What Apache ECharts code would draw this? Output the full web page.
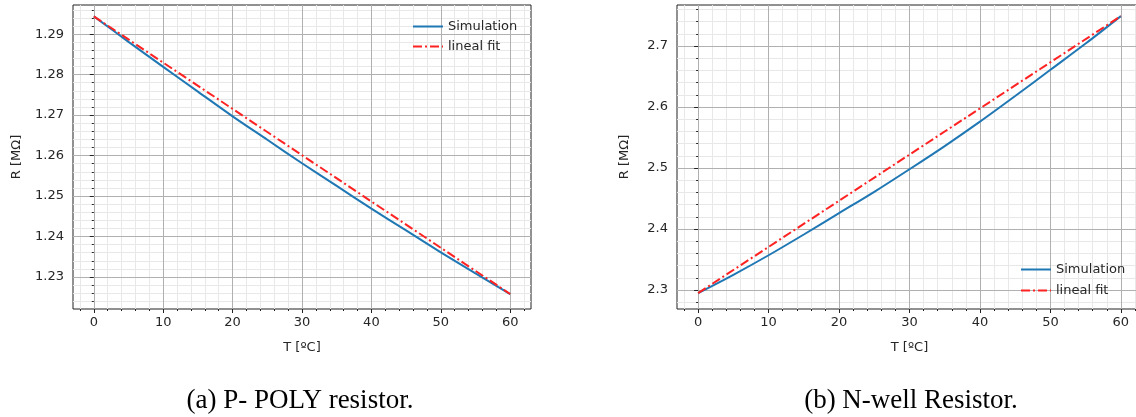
<!DOCTYPE html>
<html><head><meta charset="utf-8">
<script src="https://cdn.jsdelivr.net/npm/echarts@6/dist/echarts.min.js"></script>
<style>html,body{margin:0;padding:0;background:#fff}#c{width:1136px;height:417px}</style>
</head><body><div id="c"></div>
<script>
// ---- data ----
const temps = [0, 5, 10, 15, 20, 25, 30, 35, 40, 45, 50, 55, 60];
const polySim = [1.2944, 1.2881, 1.2819, 1.2758, 1.2697, 1.2639, 1.2581, 1.2525, 1.2469, 1.2415, 1.2361, 1.2309, 1.2258];
const nwellSim = [2.295, 2.325, 2.357, 2.391, 2.426, 2.461, 2.498, 2.536, 2.576, 2.618, 2.661, 2.704, 2.749];
const fitTemps = [0, 60];
const polyFit = [1.2944, 1.2258];
const nwellFit = [2.295, 2.749];
const xTicks = [0, 10, 20, 30, 40, 50, 60];
const polyTicks = [1.23, 1.24, 1.25, 1.26, 1.27, 1.28, 1.29];
const nwellTicks = [2.3, 2.4, 2.5, 2.6, 2.7];
const seriesNames = ['Simulation', 'lineal fit'];
const captions = ['(a) P- POLY resistor.', '(b) N-well Resistor.'];
const xName = 'T [ºC]';
const yName = 'R [MΩ]';

// ---- helpers ----
function minorValues(min, max, step, majors) {
  const out = [];
  for (let k = Math.ceil(min / step - 1e-9); k * step <= max + 1e-12; k++) {
    const v = Math.round(k * step * 1e6) / 1e6;
    if (!majors.some(m => Math.abs(m - v) < step / 10)) out.push(v);
  }
  return out;
}
const FONT = 'DejaVu Sans';
const TXT = '#262626';
function majorAxis(grid, min, max, ticks, isX, name, nameGap) {
  return {
    type: 'value', gridIndex: grid, min: min, max: max,
    position: isX ? 'bottom' : 'left',
    name: name, nameLocation: 'middle', nameGap: nameGap,
    nameTextStyle: { fontFamily: FONT, fontSize: 13, color: TXT },
    axisLine: { show: false },
    axisTick: { show: true, customValues: ticks, length: 4, lineStyle: { color: '#222', width: 1 } },
    axisLabel: { customValues: ticks, margin: isX ? 7 : 9, fontFamily: FONT, fontSize: 13, color: TXT },
    splitLine: { show: true, lineStyle: { color: '#b0b0b0', width: 1 } },
    minorTick: { show: false }, minorSplitLine: { show: false },
    z: 2
  };
}
function minorAxis(grid, min, max, vals, isX) {
  return {
    type: 'value', gridIndex: grid, min: min, max: max,
    position: isX ? 'bottom' : 'left',
    axisLine: { show: false },
    axisLabel: { show: false },
    axisTick: { show: true, customValues: vals, length: 2, lineStyle: { color: '#222', width: 1 } },
    splitLine: { show: true, lineStyle: { color: '#e8e8e8', width: 1 } },
    minorTick: { show: false }, minorSplitLine: { show: false },
    z: 1
  };
}
const X_MIN = -3, X_MAX = 63;
const P_MIN = 1.2221, P_MAX = 1.2972;
const N_MIN = 2.2689, N_MAX = 2.7672;
const xMinor = minorValues(X_MIN, X_MAX, 2, xTicks);
const pMinor = minorValues(P_MIN, P_MAX, 0.002, polyTicks);
const nMinor = minorValues(N_MIN, N_MAX, 0.02, nwellTicks);

const pairs = (xs, ys) => xs.map((x, i) => [x, ys[i]]);
const simStyle = { color: '#1f77b4', width: 2 };
const fitStyle = { color: '#ff2222', width: 2, type: [9, 3, 2, 3] };
function simSeries(ax, ys) {
  return { name: seriesNames[0], type: 'line', xAxisIndex: ax, yAxisIndex: ax, data: pairs(temps, ys),
    smooth: 0.3, symbol: 'none', lineStyle: simStyle, itemStyle: { color: simStyle.color }, z: 3 };
}
function fitSeries(ax, ys) {
  return { name: seriesNames[1], type: 'line', xAxisIndex: ax, yAxisIndex: ax, data: pairs(fitTemps, ys),
    symbol: 'none', lineStyle: fitStyle, itemStyle: { color: fitStyle.color }, z: 4 };
}
function legend(left, top, gap) {
  return { left: left, top: top, orient: 'vertical', itemWidth: 30, itemHeight: 14, itemGap: gap,
    data: seriesNames, selectedMode: false,
    itemStyle: { opacity: 0 },
    textStyle: { fontFamily: FONT, fontSize: 13, color: TXT } };
}

const chart = echarts.init(document.getElementById('c'), null, { renderer: 'canvas' });
chart.setOption({
  animation: false,
  backgroundColor: '#fff',
  grid: [
    { left: 73, top: 5, width: 458, height: 304, show: true, borderColor: '#222', borderWidth: 1, backgroundColor: 'transparent', containLabel: false, outerBoundsMode: 'none' },
    { left: 677, top: 5, width: 465, height: 304, show: true, borderColor: '#222', borderWidth: 1, backgroundColor: 'transparent', containLabel: false, outerBoundsMode: 'none' }
  ],
  xAxis: [
    minorAxis(0, X_MIN, X_MAX, xMinor, true),
    majorAxis(0, X_MIN, X_MAX, xTicks, true, xName, 32),
    minorAxis(1, X_MIN, X_MAX, xMinor, true),
    majorAxis(1, X_MIN, X_MAX, xTicks, true, xName, 32)
  ],
  yAxis: [
    minorAxis(0, P_MIN, P_MAX, pMinor, false),
    majorAxis(0, P_MIN, P_MAX, polyTicks, false, yName, 50),
    minorAxis(1, N_MIN, N_MAX, nMinor, false),
    majorAxis(1, N_MIN, N_MAX, nwellTicks, false, yName, 46)
  ],
  legend: [legend(407, 15, 7), legend(1015, 258, 8)],
  series: [
    simSeries(1, polySim), fitSeries(1, polyFit),
    simSeries(3, nwellSim), fitSeries(3, nwellFit)
  ],
  graphic: [
    { type: 'text', x: 300, y: 401, style: { text: captions[0], font: '27px "Liberation Serif"', fill: '#000', align: 'center', verticalAlign: 'middle' } },
    { type: 'text', x: 911, y: 401, style: { text: captions[1], font: '27px "Liberation Serif"', fill: '#000', align: 'center', verticalAlign: 'middle' } }
  ]
});
</script>
</body></html>
